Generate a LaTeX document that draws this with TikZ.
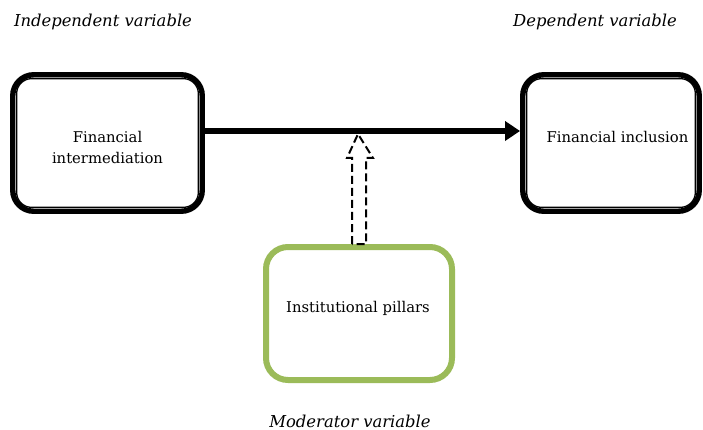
\documentclass[tikz,border=0pt]{standalone}
\usepackage{fontspec}
\setmainfont{DejaVu Serif}
\usetikzlibrary{arrows.meta}
\definecolor{modgreen}{RGB}{155,187,89}
\tikzset{
  varbox/.style={draw=black, line width=5.4pt, rounded corners=21pt},
  modbox/.style={draw=modgreen, line width=6pt, rounded corners=22pt},
  boxtext/.style={align=center, font=\fontsize{14.8}{21}\selectfont},
  lbl/.style={font=\fontsize{16.4}{18}\selectfont\itshape},
  innerline/.style={draw=black, line width=1.3pt, rounded corners=15pt},
  mainarrow/.style={line width=6pt, -{Triangle[length=15pt,width=19pt]}},
  dasharrow/.style={draw=black, line width=2pt, dash pattern=on 8pt off 4pt, fill=white}
}
\begin{document}
\begin{tikzpicture}[x=1pt,y=-1pt]
\useasboundingbox (0,0) rectangle (703,430);
\node[varbox, minimum width=189.5pt, minimum height=136.5pt] (a) at (107.5,143) {};
\node[varbox, minimum width=176.5pt, minimum height=136.5pt] (b) at (611,143) {};
\draw[innerline] ([shift={(6.6pt,-6.6pt)}]a.north west) rectangle ([shift={(-6.6pt,6.6pt)}]a.south east);
\draw[innerline] ([shift={(6.6pt,-6.6pt)}]b.north west) rectangle ([shift={(-6.6pt,6.6pt)}]b.south east);
\node[boxtext] (at) at (107.5,147) {Financial\\intermediation};
\node[boxtext] (bt) at (617.5,137) {Financial inclusion};
\node[modbox, minimum width=186pt, minimum height=133pt] (g) at (359,313.5) {};
\node[boxtext] (gt) at (358,308) {Institutional pillars};
\node[lbl] (la) at (103,22) {Independent variable};
\node[lbl] (lb) at (595,22) {Dependent variable};
\node[lbl] (lg) at (350,421) {Moderator variable};
\draw[mainarrow] ([yshift=12pt]a.east) -- ([yshift=12pt]b.west);
\coordinate (m) at (358,134);
\draw[dasharrow] ([xshift=-7pt]g.north) -- ++(0,-86) -- ++(-5,0) -- (m) -- ([xshift=14pt,yshift=86pt]g.north) -- ++(-7,0) -- ([xshift=7pt]g.north) -- cycle;
\end{tikzpicture}
\end{document}
